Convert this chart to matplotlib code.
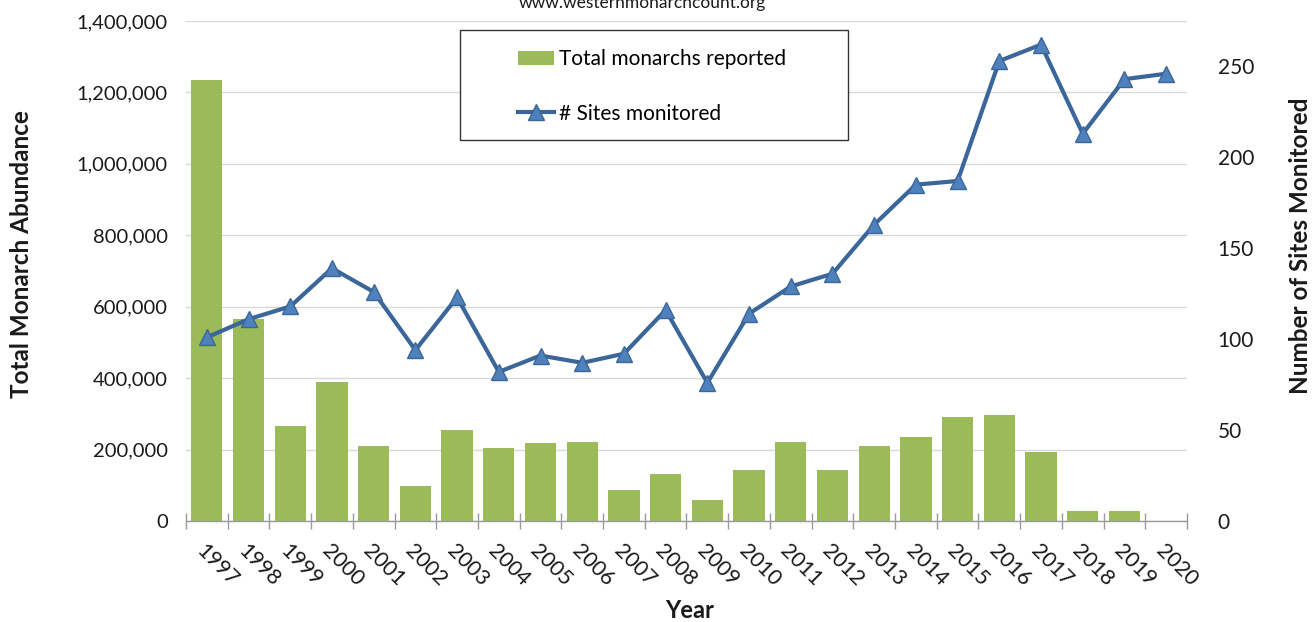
import matplotlib
matplotlib.use('Agg')
import matplotlib.pyplot as plt
import numpy as np
from matplotlib.patches import Rectangle
from matplotlib.ticker import FuncFormatter

plt.rcParams['font.family'] = ['Lato', 'DejaVu Sans']

years = [str(y) for y in range(1997, 2021)]
monarchs = [1235000, 565000, 267000, 390000, 209000, 99000, 254000, 205000,
            218000, 221000, 86000, 131000, 58000, 143000, 222000, 144000,
            211000, 234000, 292000, 298000, 192000, 27000, 29000, 0]
sites = [101, 111, 118, 139, 126, 94, 123, 82, 91, 87, 92, 116, 76, 114,
         129, 136, 163, 185, 187, 253, 262, 213, 243, 246]

green = '#9BBB59'
blue_line = '#3A6699'
blue_fill = '#4F81BD'
axis_grey = '#9A9A9A'
grid_grey = '#D9D9D9'
txt = '#1A1A1A'

fig = plt.figure(figsize=(13.16, 6.22), dpi=100)
ax = fig.add_axes([186 / 1316, 1 - 521 / 622, 1001 / 1316, 500 / 622])
x = np.arange(len(years))

# bars - total monarchs
bars = ax.bar(x, monarchs, width=0.75, color=green, zorder=2,
              label='Total monarchs reported')
ax.set_xlim(-0.5, len(years) - 0.5)
ax.set_ylim(0, 1400000)
ax.set_yticks(np.arange(0, 1400001, 200000))
ax.yaxis.set_major_formatter(FuncFormatter(lambda v, p: f'{int(v):,}'))
ax.grid(axis='y', color=grid_grey, lw=1.0, zorder=0)
ax.set_axisbelow(True)
for s in ['left', 'right', 'top']:
    ax.spines[s].set_visible(False)
ax.spines['bottom'].set_color(axis_grey)
ax.spines['bottom'].set_linewidth(1.0)
ax.tick_params(axis='y', length=0, pad=13, labelsize=14.5, labelcolor=txt)

ax.set_xticks(x)
ax.set_xticklabels(years)
ax.set_xticks(np.arange(-0.5, len(years), 1), minor=True)
ax.tick_params(axis='x', which='major', length=0, pad=14, labelsize=15.5, labelcolor=txt)
ax.tick_params(axis='x', which='minor', direction='inout', length=11,
               color=axis_grey, width=1.0)
plt.setp(ax.get_xticklabels(), rotation=-45, ha='left', va='top',
         rotation_mode='anchor')

# line - number of sites
ax2 = ax.twinx()
ln, = ax2.plot(x, sites, color=blue_line, lw=3, marker='^', markersize=11,
               markerfacecolor=blue_fill, markeredgecolor=blue_line,
               markeredgewidth=1, zorder=3, label='# Sites monitored')
ax2.set_ylim(0, 275)
ax2.set_yticks(np.arange(0, 251, 50))
for s in ['left', 'right', 'top', 'bottom']:
    ax2.spines[s].set_visible(False)
ax2.tick_params(axis='y', length=0, pad=22, labelsize=15, labelcolor=txt)

# legend box
ax2.add_patch(Rectangle((0.274, 0.762), 0.387, 0.22, transform=ax2.transAxes,
                        facecolor='white', edgecolor='#333333', lw=1.0, zorder=4))
leg = ax2.legend([bars, ln], ['Total monarchs reported', '# Sites monitored'],
                 loc='upper left', bbox_to_anchor=(0.321, 0.964), frameon=False,
                 borderpad=0, fontsize=15, handlelength=1.75, handletextpad=0.22,
                 labelspacing=1.65)
leg.set_zorder(5)

fig.text(22 / 1316, 1 - 254 / 622, 'Total Monarch Abundance', rotation=90,
         ha='center', va='center', fontsize=17.5, fontweight='bold', color=txt)
fig.text(1300 / 1316, 1 - 246 / 622, 'Number of Sites Monitored', rotation=90,
         ha='center', va='center', fontsize=17.5, fontweight='bold', color=txt)
fig.text(690 / 1316, 1 - 610 / 622, 'Year', ha='center', va='center',
         fontsize=17, fontweight='bold', color=txt)
fig.text(642 / 1316, 1 - 3 / 622, 'www.westernmonarchcount.org', ha='center',
         va='center', fontsize=12.5, color=txt)

fig.savefig('out.png', dpi=100)
